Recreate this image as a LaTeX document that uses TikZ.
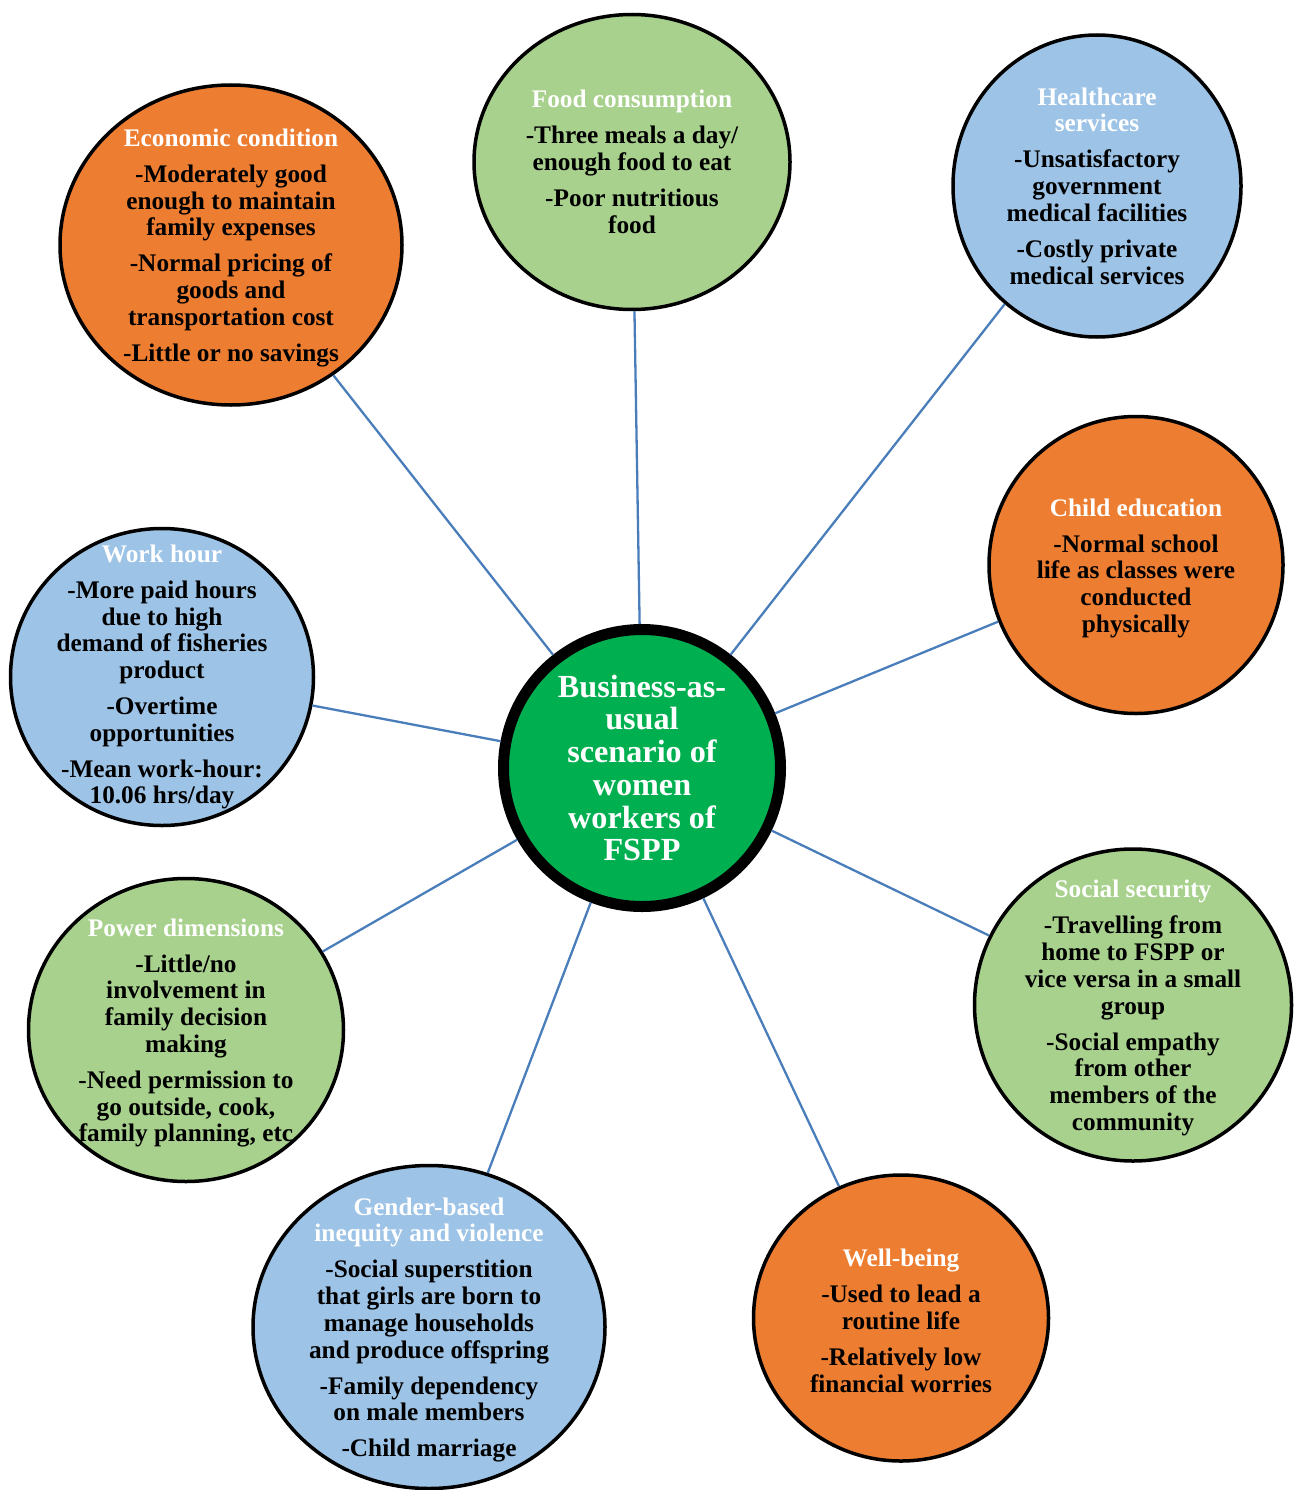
\documentclass[tikz,border=0pt]{standalone}
\usepackage{fontspec}
\setmainfont{Liberation Serif}
\usetikzlibrary{shapes.geometric}

\definecolor{bubOrange}{HTML}{ED7D31}
\definecolor{bubGreen}{HTML}{A9D18E}
\definecolor{bubBlue}{HTML}{9DC3E6}
\definecolor{hubGreen}{HTML}{00B050}
\definecolor{linkBlue}{HTML}{4A7EBB}

\newcommand{\bubtitle}[1]{\textcolor{white}{#1}}

\tikzset{
  bubble/.style={ellipse, draw=black, line width=3.5pt, inner sep=0pt},
  hub/.style={circle, draw=black, line width=11pt, fill=hubGreen, inner sep=0pt, minimum size=277pt},
  txt/.style={align=center, text=black, inner sep=0pt, yshift=-3pt,
    font=\bfseries\fontsize{25.3}{26.7}\selectfont},
  hubtxt/.style={align=center, text=white, inner sep=0pt,
    font=\bfseries\fontsize{32.2}{32.7}\selectfont},
  link/.style={draw=linkBlue, line width=2.3pt},
}

\begin{document}
\begin{tikzpicture}[x=1pt, y=-1pt]
\useasboundingbox (0,0) rectangle (1297,1490);

% outer bubbles
\node[bubble, fill=bubOrange, minimum width=342pt, minimum height=320pt] (eco) at (231,245) {};
\node[bubble, fill=bubGreen,  minimum width=316pt, minimum height=295pt] (food) at (632,162) {};
\node[bubble, fill=bubBlue,   minimum width=288pt, minimum height=302pt] (health) at (1097,186) {};
\node[bubble, fill=bubOrange, minimum width=294pt, minimum height=297pt] (child) at (1136,565) {};
\node[bubble, fill=bubGreen,  minimum width=317pt, minimum height=312pt] (social) at (1133,1005) {};
\node[bubble, fill=bubOrange, minimum width=295pt, minimum height=286pt] (well) at (901,1318) {};
\node[bubble, fill=bubBlue,   minimum width=352pt, minimum height=323pt] (gender) at (429,1327) {};
\node[bubble, fill=bubGreen,  minimum width=315pt, minimum height=303pt] (power) at (186,1030) {};
\node[bubble, fill=bubBlue,   minimum width=303pt, minimum height=297pt] (work) at (162,677) {};

% central hub
\node[hub] (hub) at (642,768) {};

% connectors
\foreach \b in {eco,food,health,child,social,well,gender,power,work}
  \draw[link] (\b) -- (hub);

% texts
\node[hubtxt] (hub-t) at (hub) {Business-as-\\usual\\scenario of\\women\\workers of\\FSPP};

\node[txt] (eco-t) at (eco) {\bubtitle{Economic condition}\\[9.3pt]
  -Moderately good\\enough to maintain\\family expenses\\[9.3pt]
  -Normal pricing of\\goods and\\transportation cost\\[9.3pt]
  -Little or no savings};

\node[txt, yshift=3pt] (food-t) at (food) {\bubtitle{Food consumption}\\[9.3pt]
  -Three meals a day/\\enough food to eat\\[9.3pt]
  -Poor nutritious\\food};

\node[txt, yshift=3pt] (health-t) at (health) {\bubtitle{Healthcare}\\\bubtitle{services}\\[9.3pt]
  -Unsatisfactory\\government\\medical facilities\\[9.3pt]
  -Costly private\\medical services};

\node[txt] (child-t) at (child) {\bubtitle{Child education}\\[9.3pt]
  -Normal school\\life as classes were\\conducted\\physically};

\node[txt] (social-t) at (social) {\bubtitle{Social security}\\[9.3pt]
  -Travelling from\\home to FSPP or\\vice versa in a small\\group\\[9.3pt]
  -Social empathy\\from other\\members of the\\community};

\node[txt] (well-t) at (well) {\bubtitle{Well-being}\\[9.3pt]
  -Used to lead a\\routine life\\[9.3pt]
  -Relatively low\\financial worries};

\node[txt] (gender-t) at (gender) {\bubtitle{Gender-based}\\\bubtitle{inequity and violence}\\[9.3pt]
  -Social superstition\\that girls are born to\\manage households\\and produce offspring\\[9.3pt]
  -Family dependency\\on male members\\[9.3pt]
  -Child marriage};

\node[txt] (power-t) at (power) {\bubtitle{Power dimensions}\\[9.3pt]
  -Little/no\\involvement in\\family decision\\making\\[9.3pt]
  -Need permission to\\go outside, cook,\\family planning, etc};

\node[txt, yshift=3pt] (work-t) at (work) {\bubtitle{Work hour}\\[9.3pt]
  -More paid hours\\due to high\\demand of fisheries\\product\\[9.3pt]
  -Overtime\\opportunities\\[9.3pt]
  -Mean work-hour:\\10.06 hrs/day};
\end{tikzpicture}
\end{document}
